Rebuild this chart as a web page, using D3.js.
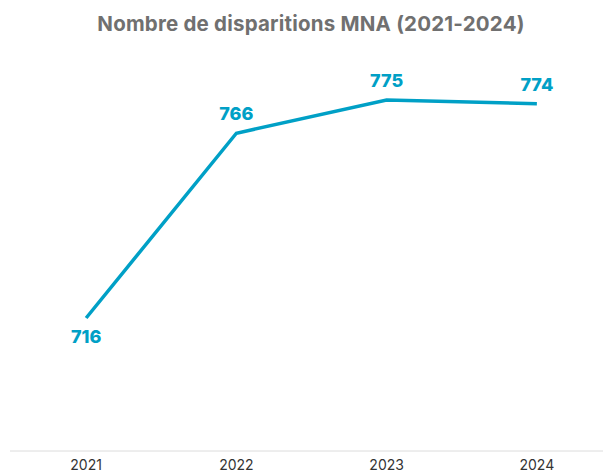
<!DOCTYPE html>
<html><head><meta charset="utf-8">
<script src="https://cdn.jsdelivr.net/npm/d3@7"></script>
<style>body{margin:0;background:#fff}svg{display:block}</style>
</head><body>
<svg id="c" width="603" height="472"></svg>
<script>
const years = ["2021","2022","2023","2024"];
const values = [716, 766, 775, 774];
const title = "Nombre de disparitions MNA (2021-2024)";

const svg = d3.select("#c");
const color = "#00a0c6";
const x = d3.scalePoint().domain(years).range([11, 612]).padding(0.5);
const y = d3.scaleLinear().domain([680, 780]).range([451, 81.5]);

svg.append("text").attr("x", 311).attr("y", 31).attr("text-anchor","middle")
  .attr("font-family","Inter, 'Open Sans', sans-serif").attr("font-weight","700")
  .attr("font-size", 20.5).attr("letter-spacing", 0.2).attr("fill","#707070").text(title);

svg.append("line").attr("x1",10).attr("x2",603).attr("y1",451).attr("y2",451)
  .attr("stroke","#dcdcdc").attr("stroke-width",1);

svg.selectAll("text.tick").data(years).join("text").attr("class","tick")
  .attr("x", d=>x(d)).attr("y", 470).attr("text-anchor","middle")
  .attr("font-family","Inter, 'Open Sans', sans-serif").attr("font-size",14).attr("fill","#333")
  .text(d=>d);

const data = years.map((d,i)=>({year:d, value:values[i]}));
svg.append("path").datum(data)
  .attr("d", d3.line().x(d=>x(d.year)).y(d=>y(d.value)))
  .attr("fill","none").attr("stroke",color).attr("stroke-width",3.5);

svg.selectAll("text.lbl").data(data).join("text").attr("class","lbl")
  .attr("x", d=>x(d.year))
  .attr("y", (d,i)=> i===0 ? y(d.value)+25 : y(d.value)-13)
  .attr("text-anchor","middle")
  .attr("font-family","Inter, 'Open Sans', sans-serif").attr("font-weight","800")
  .attr("font-size",18).attr("fill",color).text(d=>d.value);
</script>
</body></html>
